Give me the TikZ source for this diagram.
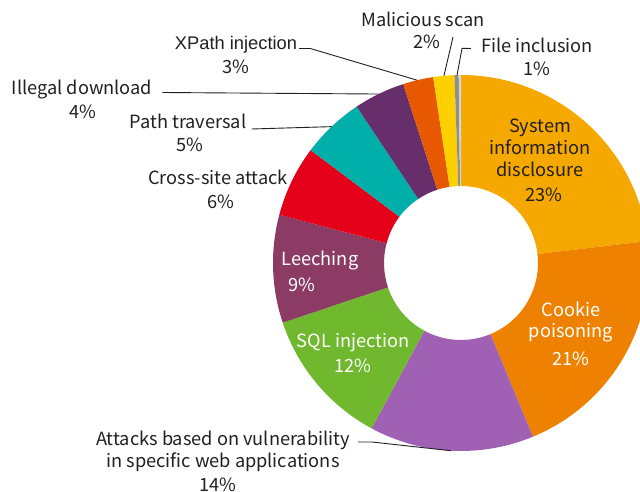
\documentclass[tikz,border=0pt]{standalone}
\usepackage{fontspec}
\setmainfont{Noto Sans CJK JP}
\newfontfamily\xpfont{Liberation Sans}
\usetikzlibrary{calc}
\definecolor{csys}{HTML}{F5A800}
\definecolor{ccook}{HTML}{EE8200}
\definecolor{catt}{HTML}{A060B4}
\definecolor{csql}{HTML}{70B82E}
\definecolor{cleech}{HTML}{8C3C64}
\definecolor{ccross}{HTML}{E40018}
\definecolor{cpath}{HTML}{00AEAA}
\definecolor{cill}{HTML}{662E6A}
\definecolor{cxp}{HTML}{E85800}
\definecolor{cmal}{HTML}{FFD000}
\definecolor{cfile}{HTML}{8E8E8E}
\definecolor{cfilelt}{HTML}{D4D4D4}
\definecolor{labelgray}{HTML}{231F20}
\begin{document}
\begin{tikzpicture}[x=1pt,y=-1pt,
  lbl/.style={inner sep=0pt, anchor=base, text=labelgray, font=\fontsize{18.2}{21}\selectfont},
  inlbl/.style={lbl, text=white},
  xplbl/.style={lbl, font=\xpfont\fontsize{18.3}{20}\selectfont},
  leader/.style={draw=labelgray, line width=0.9pt}]
\useasboundingbox (0,0) rectangle (640,492);
\coordinate (C) at (461,263);
% slices (visual angles, counterclockwise)
\foreach \col/\a/\b in {csys/6.7/90, ccook/-67.5/6.7, catt/241.6/292.5, csql/198.5/241.6,
  cleech/165.1/198.5, ccross/143.1/165.1, cpath/123.7/143.1, cill/107.9/123.7,
  cxp/98.5/107.9, cmal/92/98.5, cfile/90.7/92, cfilelt/90/90.7}
  \fill[\col, shift={(461,263)}] (-\a:188) arc[start angle=-\a, end angle=-\b, radius=188]
     -- (-\b:77) arc[start angle=-\b, end angle=-\a, radius=77] -- cycle;
% inside labels
\node[lbl] (sys1) at (540,133) {System};
\node[lbl] (sys2) at (540,155) {information};
\node[lbl] (sys3) at (540,177) {disclosure};
\node[lbl] (sysp) at (544,201) {23\%};
\node[inlbl] (ck1) at (571,316) {Cookie};
\node[inlbl] (ck2) at (571,337) {poisoning};
\node[inlbl] (ckp) at (571,365) {21\%};
\node[inlbl] (le) at (320,265) {Leeching};
\node[inlbl] (lep) at (302,291) {9\%};
\node[inlbl] (sq) at (353,347) {SQL injection};
\node[inlbl] (sqp) at (353,372) {12\%};
% outside labels
\node[lbl] (ms) at (423,27) {Malicious scan};
\node[lbl] (msp) at (427,49) {2\%};
\node[lbl] (fi) at (537,53) {File inclusion};
\node[lbl] (fip) at (537,76) {1\%};
\node[xplbl] (xp) at (236,50) {XPath injection};
\node[lbl] (xpp) at (236,74) {3\%};
\node[lbl] (il) at (82,95) {Illegal download};
\node[lbl] (ilp) at (83,119) {4\%};
\node[lbl] (pt) at (188,129) {Path traversal};
\node[lbl] (ptp) at (190,152) {5\%};
\node[lbl] (cs) at (218,184) {Cross-site attack};
\node[lbl] (csp) at (221,208) {6\%};
\node[lbl] (at1) at (223,445) {Attacks based on vulnerability};
\node[lbl] (at2) at (223,467) {in specific web applications};
\node[lbl] (atp) at (218,491) {14\%};
% leader end points on the ring
\coordinate (xpE) at ($(C)+(-103.5:188)$);
\coordinate (ilE) at ($(C)+(-116:188)$);
\coordinate (ptE) at ($(C)+(-133.5:188)$);
\coordinate (msE) at ($(C)+(-95.2:188)$);
\coordinate (fiE) at ($(C)+(-91.2:188)$);
\coordinate (atE) at ($(C)+(-267:188)$);
\coordinate (msT) at (453,37);
\coordinate (fiK) at (462,48.3);
% leaders
\draw[leader] ($(xp.base east)+(2,-1.5)$) -- ++(11,0) -- (xpE);
\draw[leader] ($(il.base east)+(10,-2.5)$) -- (ilE);
\draw[leader] ($(pt.base east)+(5,0)$) -- (ptE);
\draw[leader] (msT) -- (msE);
\draw[leader] ($(fi.base west)+(-10,-4.5)$) -- (fiK) -- (fiE);
\draw[leader] ($(at1.base east)+(8,-3)$) -- ++(14,0) -- (atE);
\end{tikzpicture}
\end{document}
